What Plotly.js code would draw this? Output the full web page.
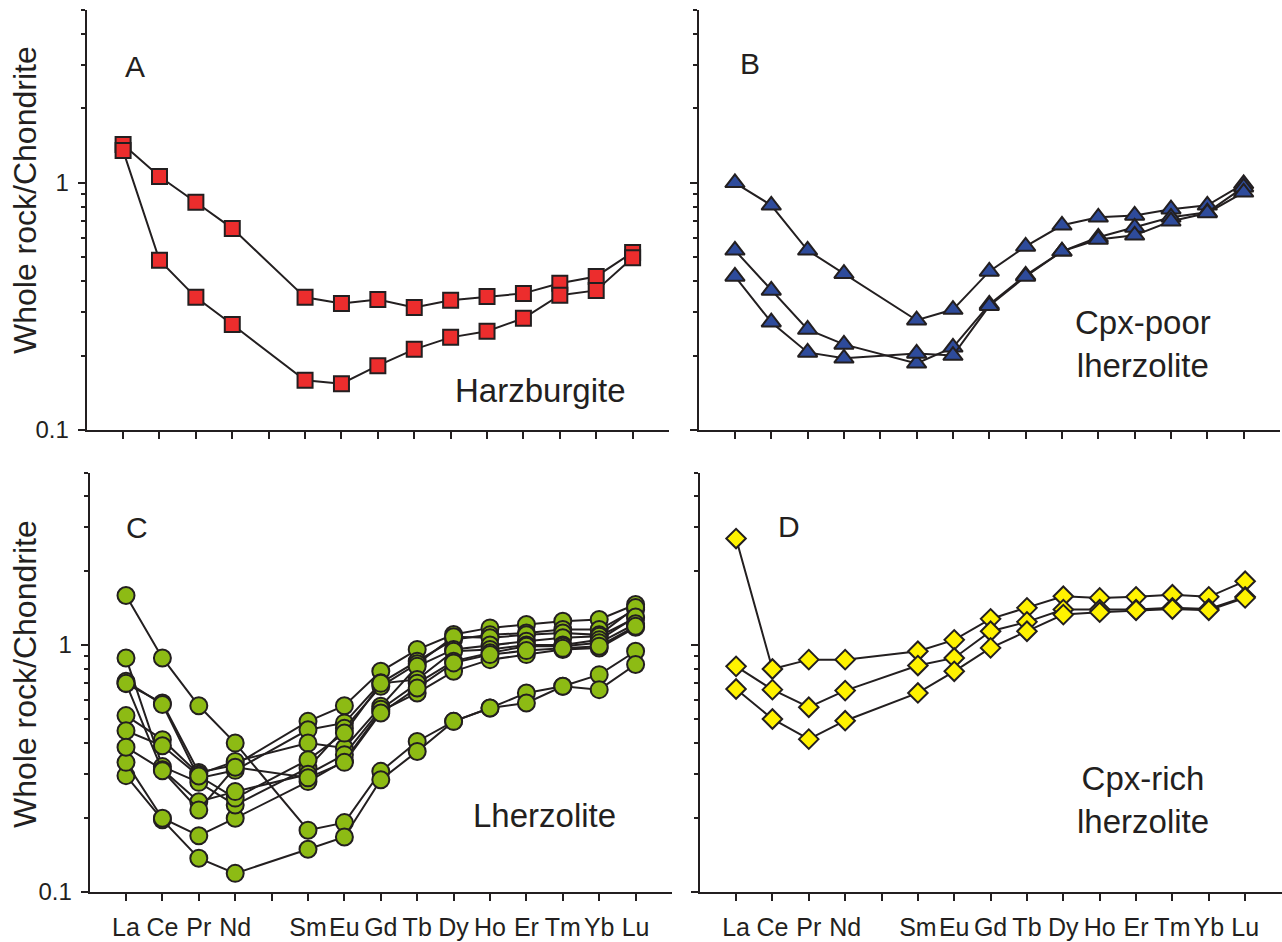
<!DOCTYPE html>
<html>
<head>
<meta charset="utf-8">
<script src="https://cdn.plot.ly/plotly-3.0.1.min.js"></script>
<style>
html,body{margin:0;padding:0;background:#fff;}
#chart{width:1282px;height:942px;}
</style>
</head>
<body>
<div id="chart"></div>
<script>
// ---------- data ----------
const elements = ['La','Ce','Pr','Nd','Sm','Eu','Gd','Tb','Dy','Ho','Er','Tm','Yb','Lu'];
const atomicNumber = [57,58,59,60,62,63,64,65,66,67,68,69,70,71];
const tickNumbers = [57,58,59,60,61,62,63,64,65,66,67,68,69,70,71];
const tickLabels = ['La','Ce','Pr','Nd','','Sm','Eu','Gd','Tb','Dy','Ho','Er','Tm','Yb','Lu'];

// A: Harzburgite
const harz1 = [1.43,1.06,0.834,0.654,0.344,0.325,0.337,0.313,0.335,0.347,0.357,0.392,0.418,0.523];
const harz2 = [1.35,0.486,0.344,0.267,0.159,0.154,0.182,0.212,0.237,0.251,0.283,0.351,0.367,0.498];

// B: Cpx-poor lherzolite
const cpxPoor1 = [1.0,0.811,0.533,0.429,0.278,0.307,0.438,0.553,0.673,0.725,0.738,0.782,0.811,0.99];
const cpxPoor2 = [0.533,0.367,0.255,0.222,0.186,0.216,0.322,0.422,0.528,0.602,0.66,0.725,0.76,0.96];
const cpxPoor3 = [0.418,0.273,0.206,0.195,0.204,0.200,0.318,0.418,0.528,0.59,0.613,0.699,0.755,0.915];

// C: Lherzolite
const lhz1 = [1.588,0.887,0.568,0.401,0.178,0.191,0.308,0.407,0.491,0.556,0.640,0.681,0.759,0.944];
const lhz2 = [0.296,0.196,0.137,0.119,0.149,0.167,0.285,0.371,0.491,0.556,0.583,0.681,0.660,0.834];
const lhz3 = [0.335,0.199,0.169,0.199,0.280,0.340,0.540,0.640,0.783,0.873,0.915,0.959,0.974,1.180];
const lhz4 = [0.698,0.583,0.305,0.327,0.491,0.568,0.783,0.959,1.103,1.174,1.211,1.249,1.269,1.460];
const lhz5 = [0.713,0.575,0.289,0.311,0.454,0.484,0.703,0.860,1.053,1.100,1.120,1.156,1.156,1.393];
const lhz6 = [0.887,0.322,0.278,0.225,0.318,0.460,0.681,0.840,1.080,1.070,1.100,1.120,1.100,1.420];
const lhz7 = [0.518,0.414,0.300,0.338,0.401,0.383,0.565,0.820,0.960,1.000,1.036,1.070,1.086,1.289];
const lhz8 = [0.450,0.391,0.295,0.240,0.343,0.440,0.700,0.725,0.944,0.960,1.000,1.000,1.050,1.300];
const lhz9 = [0.386,0.313,0.232,0.255,0.300,0.360,0.550,0.700,0.860,0.930,0.989,0.989,1.021,1.220];
const lhz10 = [0.700,0.310,0.215,0.320,0.290,0.335,0.531,0.670,0.847,0.915,0.950,0.970,0.990,1.192];

// D: Cpx-rich lherzolite
const cpxRich1 = [2.70,0.80,0.873,0.873,0.944,1.05,1.277,1.415,1.577,1.553,1.568,1.60,1.568,1.815];
const cpxRich2 = [0.82,0.66,0.56,0.654,0.826,0.887,1.138,1.242,1.393,1.393,1.393,1.415,1.40,1.568];
const cpxRich3 = [0.664,0.502,0.416,0.494,0.64,0.783,0.974,1.138,1.329,1.359,1.384,1.40,1.384,1.553];

// ---------- styling ----------
const INK = '#231f20';
const FONT = 'Liberation Sans, Arial, sans-serif';
const W = 1282, H = 942;

function series(vals, xa, ya, symbol, color, size) {
  return {
    x: atomicNumber, y: vals, xaxis: xa, yaxis: ya,
    type: 'scatter', mode: 'lines+markers', text: elements,
    line: {color: INK, width: 2},
    marker: {symbol: symbol, color: color, size: size, line: {color: INK, width: 2}},
    showlegend: false, hoverinfo: 'text+y'
  };
}

const traces = [];
[harz1, harz2].forEach(s => traces.push(series(s, 'x', 'y', 'square', '#ec2d2d', 15)));
[cpxPoor1, cpxPoor2, cpxPoor3].forEach(s => traces.push(series(s, 'x2', 'y2', 'triangle-up', '#2e4b9b', 17)));
[lhz1, lhz2, lhz3, lhz4, lhz5, lhz6, lhz7, lhz8, lhz9, lhz10].forEach(s => traces.push(series(s, 'x3', 'y3', 'circle', '#8dbb14', 17)));
[cpxRich1, cpxRich2, cpxRich3].forEach(s => traces.push(series(s, 'x4', 'y4', 'diamond', '#fff200', 15)));

function px(a, b) { return [a / W, b / W]; }
function py(top, bottom) { return [1 - bottom / H, 1 - top / H]; }

function xAxis(dom, anchor, labels) {
  return {
    domain: dom, anchor: anchor, range: [56, 72],
    tickmode: 'array', tickvals: tickNumbers, ticktext: tickLabels,
    showticklabels: labels,
    ticks: 'outside', ticklen: 7, tickwidth: 2, tickcolor: INK,
    showline: true, linecolor: INK, linewidth: 2,
    showgrid: false, zeroline: false,
    tickfont: {family: FONT, size: 25, color: INK},
    ticklabelstandoff: 5
  };
}
function yAxis(dom, anchor, labels) {
  return {
    domain: dom, anchor: anchor, type: 'log', range: [-1, Math.log10(5)],
    tickmode: 'array', tickvals: [0.1, 1], ticktext: ['0.1', '1'],
    showticklabels: labels,
    ticks: 'outside', ticklen: 7, tickwidth: 2, tickcolor: INK,
    minor: {tickmode: 'array', tickvals: [0.2,0.3,0.4,0.5,0.6,0.7,0.8,0.9,2,3,4,5],
            ticks: 'outside', ticklen: 4, tickwidth: 2, tickcolor: INK, showgrid: false},
    showline: true, linecolor: INK, linewidth: 2,
    showgrid: false, zeroline: false,
    tickfont: {family: FONT, size: 24, color: INK},
    ticklabelstandoff: 4
  };
}

function ann(text, x, y, size, extra) {
  return Object.assign({
    text: text, xref: 'paper', yref: 'paper', x: x / W, y: 1 - y / H,
    xanchor: 'center', yanchor: 'middle', showarrow: false,
    font: {family: FONT, size: size, color: INK}
  }, extra || {});
}

const layout = {
  width: W, height: H, autosize: false,
  margin: {l: 0, r: 0, t: 0, b: 0, pad: 0},
  paper_bgcolor: '#ffffff', plot_bgcolor: 'rgba(0,0,0,0)',
  showlegend: false,
  xaxis: xAxis(px(86.7, 669), 'y', false),
  yaxis: yAxis(py(10, 430), 'x', true),
  xaxis2: xAxis(px(698.6, 1280), 'y2', false),
  yaxis2: yAxis(py(10, 430), 'x2', false),
  xaxis3: xAxis(px(89.6, 672), 'y3', true),
  yaxis3: yAxis(py(472.5, 892), 'x3', true),
  xaxis4: xAxis(px(699.7, 1281.5), 'y4', true),
  yaxis4: yAxis(py(472.5, 892), 'x4', false),
  annotations: [
    ann('Whole rock/Chondrite', 25, 200, 32, {textangle: -90}),
    ann('Whole rock/Chondrite', 25, 674, 32, {textangle: -90}),
    ann('A', 135, 67, 30),
    ann('B', 750, 64, 30),
    ann('C', 137, 527, 30),
    ann('D', 789, 526, 30),
    ann('Harzburgite', 540, 390, 33),
    ann('Cpx-poor<br>lherzolite', 1143, 344, 33),
    ann('Lherzolite', 544, 815, 33),
    ann('Cpx-rich<br>lherzolite', 1143, 800, 33)
  ]
};

Plotly.newPlot('chart', traces, layout, {staticPlot: true, displayModeBar: false});
</script>
</body>
</html>
